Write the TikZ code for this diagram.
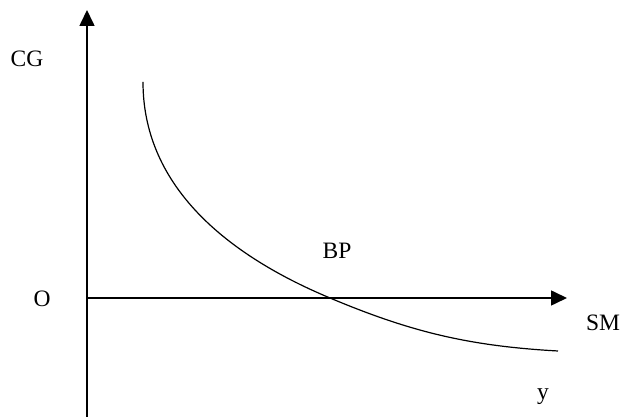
\documentclass[tikz,border=0pt]{standalone}
\usepackage{fontspec}
\setmainfont{Liberation Serif}
\usetikzlibrary{arrows.meta}
\usetikzlibrary{math}
\tikzset{
axis/.style={line width=1.6, -{Triangle[length=16pt,width=15pt]}},
lbl/.style={font=\fontsize{23.5}{26}\selectfont, inner sep=0pt},
}

\begin{document}
\begin{tikzpicture}[x=1pt,y=1pt]
\tikzmath{
\ox=87;
\oy=119;
}
\useasboundingbox (0,0) rectangle (622,417);
\coordinate (Ybot) at (\ox,0);
\coordinate (Ytop) at (\ox,407);
\coordinate (O) at (\ox,\oy);
\coordinate (Xend) at (567,\oy);

\draw[axis] (Ybot) -- (Ytop);
\draw[axis] (O) -- (Xend);

\coordinate (C0) at (143,335);
\coordinate (BPpt) at (330,\oy);
\coordinate (C1) at (558,66);
\draw[line width=1.2] (C0) .. controls (143,235) and (220,165) .. (BPpt)
  .. controls (410,85.4) and (468,71) .. (C1);

\node[lbl] (cg) at (27,358) {CG};
\node[lbl] (o) at (42,118) {O};
\node[lbl] (bp) at (337,166) {BP};
\node[lbl] (sm) at (603,94) {SM};
\node[lbl] (yl) at (543,20) {y};
\end{tikzpicture}
\end{document}
